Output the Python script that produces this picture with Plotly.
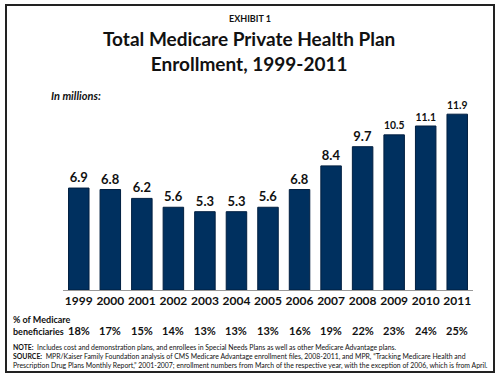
import plotly.graph_objects as go

years = ["1999", "2000", "2001", "2002", "2003", "2004", "2005", "2006", "2007", "2008", "2009", "2010", "2011"]
enrollment = [6.9, 6.8, 6.2, 5.6, 5.3, 5.3, 5.6, 6.8, 8.4, 9.7, 10.5, 11.1, 11.9]
pct_beneficiaries = ["18%", "17%", "15%", "14%", "13%", "13%", "13%", "16%", "19%", "22%", "23%", "24%", "25%"]

FONT = "Lato"
W, H = 500, 376
ml, mr, mt, mb = 63, 27, 100, 86


def pap_y(py):
    return 1 - (py - mt) / (H - mt - mb)


def pap_x(px):
    return (px - ml) / (W - ml - mr)


fig = go.Figure()
fig.add_trace(go.Bar(
    x=years, y=enrollment,
    marker=dict(color="#00305f", line=dict(color="#001f40", width=1)),
    text=[f"{v:.1f}" for v in enrollment],
    textposition="outside",
    textfont=dict(family=FONT, size=13, color="#111", weight="bold"),
    cliponaxis=False,
    width=0.65,
    hoverinfo="skip",
))

annotations = []
annotations.append(dict(text="<b>EXHIBIT 1</b>", x=pap_x(250), y=pap_y(18), xref="paper", yref="paper",
                        showarrow=False, font=dict(family=FONT, size=9, color="#111"), xanchor="center", yanchor="middle"))
annotations.append(dict(text="<b>Total Medicare Private Health Plan<br>Enrollment, 1999-2011</b>", x=pap_x(249), y=pap_y(51),
                        xref="paper", yref="paper", showarrow=False,
                        font=dict(family=FONT, size=19, color="#111"), xanchor="center", yanchor="middle"))
annotations.append(dict(text="<b><i>In millions:</i></b>", x=pap_x(49), y=pap_y(96), xref="paper", yref="paper",
                        showarrow=False, font=dict(family=FONT, size=11, color="#111"), xanchor="left", yanchor="middle"))
annotations.append(dict(text="<b>% of Medicare<br>beneficiaries</b>", x=pap_x(11), y=pap_y(325), xref="paper", yref="paper",
                        showarrow=False, font=dict(family=FONT, size=9, color="#111"), xanchor="left", yanchor="middle",
                        align="left"))
for i, p in enumerate(pct_beneficiaries):
    annotations.append(dict(text=f"<b>{p}</b>", x=i, y=pap_y(330), xref="x", yref="paper", showarrow=False,
                            font=dict(family=FONT, size=11, color="#111"), xanchor="center", yanchor="middle"))
notes = ("<b>NOTE:</b>  Includes cost and demonstration plans, and enrollees in Special Needs Plans as well as other Medicare Advantage plans.<br>"
         "<b>SOURCE:</b>  MPR/Kaiser Family Foundation analysis of CMS Medicare Advantage enrollment files, 2008-2011, and MPR, \u201cTracking Medicare Health and<br>"
         "Prescription Drug Plans Monthly Report,\u201d 2001-2007; enrollment numbers from March of the respective year, with the exception of 2006, which is from April.")
annotations.append(dict(text=notes, x=pap_x(11), y=pap_y(356), xref="paper", yref="paper", showarrow=False,
                        font=dict(family=FONT, size=6.9, color="#111"), xanchor="left", yanchor="middle", align="left"))

fig.update_layout(
    width=W, height=H,
    margin=dict(l=ml, r=mr, t=mt, b=mb),
    paper_bgcolor="white", plot_bgcolor="white",
    showlegend=False,
    bargap=0.35,
    xaxis=dict(type="category", range=[-0.5, 12.5], showline=True, linecolor="#999", linewidth=1,
               ticks="", tickangle=0, tickfont=dict(family=FONT, size=12, color="#111", weight="bold"), fixedrange=True),
    yaxis=dict(range=[0, 12.86], visible=False, showgrid=False, fixedrange=True),
    annotations=annotations,
    shapes=[dict(type="rect", xref="paper", yref="paper", x0=pap_x(6), x1=pap_x(494), y0=pap_y(372), y1=pap_y(5),
                 line=dict(color="#222", width=2), fillcolor="rgba(0,0,0,0)", layer="above")],
)

fig.write_html("out.html", config={"displayModeBar": False},
               post_script="document.body.style.margin='0';document.body.style.overflow='hidden';")
